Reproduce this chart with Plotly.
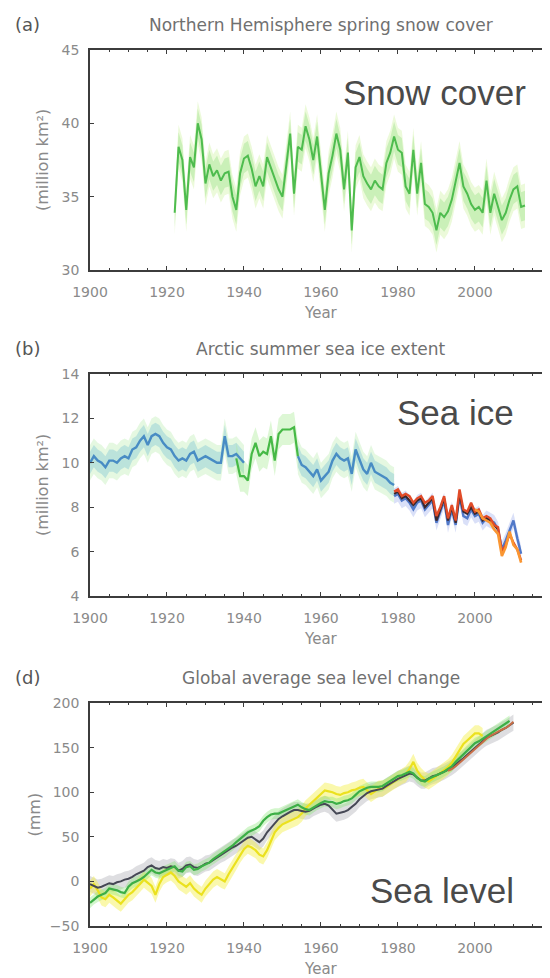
import plotly.graph_objects as go

# ---------------- data ----------------
x_ticks = [1900, 1920, 1940, 1960, 1980, 2000]
x_tick_text = ["1900", "1920", "1940", "1960", "1980", "2000"]

# (a) Northern Hemisphere spring snow cover, million km2, 1922-2013
snow_start = 1922
snow_extent = [33.9, 38.4, 37.5, 34.1, 37.7, 37.0, 40.0, 38.9, 35.9, 37.2,
               36.4, 36.8, 36.1, 36.6, 36.7, 35.0, 34.1, 36.6, 37.6, 37.8,
               36.9, 35.7, 36.4, 35.7, 37.7, 37.0, 36.2, 35.5, 35.0, 37.0,
               39.3, 35.2, 38.4, 38.2, 39.8, 38.9, 37.5, 39.1, 36.4, 34.1,
               36.6, 37.8, 39.3, 38.2, 35.5, 38.0, 32.7, 37.0, 37.7, 36.4,
               35.9, 35.5, 36.1, 35.7, 35.5, 37.3, 38.0, 39.1, 38.2, 38.0,
               35.7, 35.2, 38.2, 35.2, 37.3, 34.5, 34.3, 33.9, 32.7, 33.9,
               33.6, 34.0, 34.8, 36.0, 37.3, 35.7, 35.2, 34.5, 34.1, 34.3,
               33.9, 36.1, 33.9, 35.2, 34.3, 33.4, 33.9, 34.8, 35.5, 35.7,
               34.3, 34.4]
snow_unc = 1.0
snow_ticks = [30, 35, 40, 45]

# (b) Arctic summer sea ice extent, million km2
ice_blue1_start = 1900
ice_blue1 = [10.0, 10.3, 10.1, 10.0, 9.8, 10.1, 10.1, 10.0, 10.2, 10.3,
             10.2, 10.6, 10.7, 11.0, 11.2, 10.8, 11.2, 11.3, 11.2, 10.9,
             10.7, 10.6, 10.3, 10.1, 10.2, 10.1, 10.4, 10.5, 10.1, 10.2,
             10.3, 10.2, 10.1, 10.0, 10.0, 11.2, 10.3, 10.3, 10.4, 10.2,
             10.0]
ice_green_start = 1938
ice_green = [10.2, 9.4, 9.4, 9.2, 10.4, 10.9, 10.3, 10.5, 10.4, 11.2,
             10.1, 11.3, 11.5, 11.5, 11.5, 11.6, 10.3]
ice_blue2_start = 1954
ice_blue2 = [10.3, 9.9, 9.8, 9.6, 9.4, 9.7, 9.2, 9.4, 9.6, 10.1,
             10.4, 10.2, 10.1, 10.2, 9.5, 10.6, 10.1, 9.7, 9.5, 10.0,
             9.6, 9.5, 9.4, 9.3, 9.1, 9.0]
ice_sat_start = 1979
ice_sat_blue = [8.5, 8.6, 8.3, 8.4, 8.2, 7.9, 8.2, 8.3, 7.9, 8.1,
                8.3, 7.3, 7.8, 8.3, 7.2, 7.9, 7.2, 8.5, 7.6, 7.5,
                7.9, 7.6, 7.7, 7.3, 7.5, 7.4, 7.3, 7.0, 6.1, 6.5,
                7.0, 7.4, 6.6, 5.9]
ice_sat_black = [8.6, 8.7, 8.4, 8.5, 8.3, 8.1, 8.3, 8.4, 8.0, 8.2,
                 8.4, 7.4, 7.9, 8.4, 7.4, 8.0, 7.3, 8.6, 7.8, 7.7,
                 8.0, 7.7, 7.8, 7.4, 7.5, 7.4, 7.2, 7.0]
ice_sat_red = [8.7, 8.8, 8.5, 8.6, 8.5, 8.2, 8.4, 8.5, 8.2, 8.3,
               8.5, 7.6, 8.0, 8.5, 7.5, 8.1, 7.4, 8.8, 7.9, 7.8,
               8.2, 7.8, 7.9, 7.5, 7.6, 7.5, 7.2, 7.1, 6.0, 6.3,
               6.8, 6.4, 6.1, 5.6]
ice_orange_start = 2000
ice_sat_orange = [7.9, 7.8, 7.5, 7.4, 7.3, 7.0, 6.8, 5.8, 6.2, 6.9,
                  6.3, 6.1, 5.5]
ice_unc = 0.5
ice_sat_unc = 0.35
ice_ticks = [4, 6, 8, 10, 12, 14]

# (d) Global average sea level change, mm
sl_start = 1900
sl_green = [-24, -20, -17, -15, -13, -8, -9, -10, -12, -13,
            -6, -2, 0, 2, 5, 9, 13, 10, 9, 11,
            13, 15, 17, 12, 11, 16, 17, 13, 14, 17,
            19, 21, 25, 28, 31, 33, 37, 40, 44, 48,
            52, 55, 57, 59, 62, 68, 72, 75, 76, 76,
            78, 80, 82, 84, 86, 83, 81, 80, 83, 86,
            88, 90, 89, 89, 87, 88, 90, 91, 93, 97,
            101, 103, 105, 106, 106, 106, 107, 110, 113, 116,
            118, 119, 121, 123, 121, 116, 113, 112, 115, 117,
            119, 121, 123, 126, 129, 134, 138, 143, 147, 151,
            155, 157, 160, 163, 166, 168, 171, 174, 177, 180]
sl_black = [-3, -5, -7, -6, -4, -2, -3, -1, 0, 2,
            3, 5, 8, 10, 12, 16, 18, 15, 14, 16,
            15, 17, 16, 12, 14, 18, 19, 16, 15, 17,
            20, 21, 24, 27, 30, 32, 35, 38, 40, 43,
            46, 49, 50, 47, 44, 48, 55, 60, 65, 70,
            73, 76, 78, 80, 80, 79, 78, 79, 82, 84,
            86, 87, 85, 80, 76, 77, 78, 80, 83, 87,
            92, 96, 99, 101, 102, 103, 104, 107, 110, 113,
            115, 117, 119, 121, 120, 116, 113, 113, 116, 118,
            119, 121, 123, 125, 128, 131, 134, 138, 142, 146,
            150, 154, 158, 161, 163, 165, 167, 170, 172, 175,
            178]
sl_yellow = [-8, -3, -10, -18, -20, -15, -18, -22, -25, -20,
             -15, -12, -8, -3, 2, -2, -5, -15, -3, 5,
             8, 10, 6, 0, -3, -6, -2, -8, -12, -15,
             -8, -3, 2, 5, 2, 0, 8, 15, 22, 30,
             36, 40, 38, 35, 30, 28, 35, 45, 55, 60,
             64, 66, 68, 70, 72, 76, 82, 86, 90, 95,
             98, 102, 101, 100, 98, 97, 99, 100, 102, 103,
             105, 106, 102, 98, 101, 104, 104, 106, 109, 112,
             115, 118, 120, 126, 134, 124, 118, 114, 112, 115,
             118, 121, 124, 128, 133, 140, 148, 154, 158, 162,
             166, 166, 163]
sl_sat_start = 1993
sl_orange = [124, 126, 129, 133, 137, 141, 145, 149, 153, 157,
             160, 163, 166, 168, 170, 172, 175, 179]
sl_black_unc = 9
sl_yellow_unc = 9
sl_green_unc = 6
sl_ticks = [-50, 0, 50, 100, 150, 200]

# ---------------- layout constants ----------------
# the page body has an 8px margin, so the figure is drawn 8px in from the
# top-left corner; every target screen position below is shifted by OFF.
OFF = 8
W, H = 550 - OFF, 978 - OFF
PLOT_L = 90 - OFF
panels = [  # (top px, bottom px) in screen coordinates
    (50, 270),
    (374, 596),
    (703, 926),
]


def px_x(sx):
    return (sx - OFF) / W


def px_y(sy):
    return 1 - (sy - OFF) / H


def yr(start, vals):
    return list(range(start, start + len(vals)))


def band(xs, ys, unc):
    up = [v + unc for v in ys]
    lo = [v - unc for v in ys]
    return xs + xs[::-1], up + lo[::-1]


fig = go.Figure()


def add_band(xs, ys, unc, color, ax, ay):
    bx, by = band(xs, ys, unc)
    fig.add_trace(go.Scatter(x=bx, y=by, fill="toself", fillcolor=color,
                             line=dict(width=0), mode="lines", hoverinfo="skip",
                             showlegend=False, xaxis=ax, yaxis=ay))


def add_line(xs, ys, color, width, ax, ay):
    fig.add_trace(go.Scatter(x=xs, y=ys, mode="lines",
                             line=dict(color=color, width=width),
                             showlegend=False, xaxis=ax, yaxis=ay))


# (a)
sx = yr(snow_start, snow_extent)
add_band(sx, snow_extent, snow_unc * 1.5, "rgba(200,240,150,0.35)", "x", "y")
add_band(sx, snow_extent, snow_unc, "rgba(140,220,120,0.35)", "x", "y")
add_line(sx, snow_extent, "rgb(78,188,78)", 2, "x", "y")

# (b)
b1x = yr(ice_blue1_start, ice_blue1)
b2x = yr(ice_blue2_start, ice_blue2)
gx = yr(ice_green_start, ice_green)
satx = yr(ice_sat_start, ice_sat_blue)
for xs, ys in ((b1x, ice_blue1), (b2x, ice_blue2)):
    add_band(xs, ys, ice_unc * 1.6, "rgba(180,235,170,0.35)", "x2", "y2")
    add_band(xs, ys, ice_unc, "rgba(110,190,210,0.35)", "x2", "y2")
add_band(gx, ice_green, ice_unc * 1.4, "rgba(170,235,150,0.4)", "x2", "y2")
add_band(satx, ice_sat_blue, ice_sat_unc, "rgba(150,165,235,0.35)", "x2", "y2")
add_line(b1x, ice_blue1, "rgb(72,140,196)", 2.4, "x2", "y2")
add_line(b2x, ice_blue2, "rgb(72,140,196)", 2.4, "x2", "y2")
add_line(gx, ice_green, "rgb(70,185,70)", 2.2, "x2", "y2")
add_line(satx, ice_sat_blue, "rgb(80,120,200)", 2.4, "x2", "y2")
add_line(yr(ice_sat_start, ice_sat_black), ice_sat_black, "rgb(60,40,45)", 2.2, "x2", "y2")
add_line(yr(ice_sat_start, ice_sat_red), ice_sat_red, "rgb(225,75,40)", 2.4, "x2", "y2")
add_line(yr(ice_orange_start, ice_sat_orange), ice_sat_orange, "rgb(250,150,50)", 2.6, "x2", "y2")

# (d)
gsx = yr(sl_start, sl_green)
bsx = yr(sl_start, sl_black)
ysx = yr(sl_start, sl_yellow)
osx = yr(sl_sat_start, sl_orange)
add_band(bsx, sl_black, sl_black_unc, "rgba(160,160,170,0.35)", "x3", "y3")
add_band(ysx, sl_yellow, sl_yellow_unc, "rgba(245,240,70,0.45)", "x3", "y3")
add_band(gsx, sl_green, sl_green_unc, "rgba(130,230,110,0.35)", "x3", "y3")
add_line(ysx, sl_yellow, "rgb(235,225,30)", 2.2, "x3", "y3")
add_line(bsx, sl_black, "rgb(70,72,85)", 2.0, "x3", "y3")
add_line(gsx, sl_green, "rgb(60,175,70)", 2.2, "x3", "y3")
add_line(osx, sl_orange, "rgb(200,110,70)", 2.0, "x3", "y3")

AX_COL = "#3c3c3c"
TICK_FONT = dict(family="DejaVu Sans", size=14, color="#8a8a8a")

y_tick_sets = [snow_ticks, ice_ticks, sl_ticks]
layout = dict(width=W, height=H,
              margin=dict(l=0, r=0, t=0, b=0, pad=0, autoexpand=False),
              paper_bgcolor="white", plot_bgcolor="white", showlegend=False)

for i, ((top, bot), yt) in enumerate(zip(panels, y_tick_sets)):
    n = "" if i == 0 else str(i + 1)
    dom_y = [px_y(bot), px_y(top)]
    layout["xaxis" + n] = dict(
        domain=[PLOT_L / W, 1], anchor="y" + n, range=[1900, 2019.5],
        tickvals=x_ticks, ticktext=x_tick_text, ticks="inside", ticklen=4,
        tickcolor=AX_COL, tickwidth=1, showline=True, linecolor=AX_COL, linewidth=1.6,
        mirror="ticks", showgrid=False, zeroline=False, tickfont=TICK_FONT,
        ticklabelstandoff=8, automargin=False,
        minor=dict(tick0=1900, dtick=5, ticks="inside", ticklen=2, tickcolor=AX_COL),
    )
    layout["yaxis" + n] = dict(
        domain=dom_y, anchor="x" + n, range=[yt[0], yt[-1]], tickvals=yt,
        ticks="inside", ticklen=4, tickcolor=AX_COL, showline=True,
        linecolor=AX_COL, linewidth=1.6, showgrid=False, zeroline=False,
        tickfont=TICK_FONT, ticklabelstandoff=6, automargin=False,
    )
    layout["yaxis" + str(i + 4)] = dict(
        overlaying="y" + n, anchor="x" + n, side="right",
        range=[yt[0], yt[-1]], tickvals=yt, ticks="inside", ticklen=4,
        tickcolor=AX_COL, showticklabels=False, showline=False,
        showgrid=False, zeroline=False, automargin=False,
    )

fig.update_layout(**layout)

TITLE_FONT = dict(family="DejaVu Sans", size=17, color="#707070")
LABEL_FONT = dict(family="DejaVu Sans", size=18, color="#555")
BIG_FONT = dict(family="Liberation Sans", size=35, color="#4a4a4a")
AXT_FONT = dict(family="DejaVu Sans", size=15, color="#8a8a8a")
YT_FONT = dict(family="DejaVu Sans", size=16, color="#8a8a8a")

panel_text = [
    ("(a)", "Northern Hemisphere spring snow cover", "Snow cover", 528, 92, "(million km²)", 42),
    ("(b)", "Arctic summer sea ice extent", "Sea ice", 516, 412, "(million km²)", 42),
    ("(d)", "Global average sea level change", "Sea level", 516, 890, "(mm)", 34),
]
center_x = 321
for (top, bot), (lab, title, big, bx, by, ytitle, ytx) in zip(panels, panel_text):
    fig.add_annotation(x=px_x(27), y=px_y(top - 26), xref="paper", yref="paper",
                       text=lab, showarrow=False, font=LABEL_FONT,
                       xanchor="center", yanchor="middle")
    fig.add_annotation(x=px_x(center_x), y=px_y(top - 25), xref="paper", yref="paper",
                       text=title, showarrow=False, font=TITLE_FONT,
                       xanchor="center", yanchor="middle")
    fig.add_annotation(x=px_x(bx), y=px_y(by), xref="paper", yref="paper",
                       text=big, showarrow=False, font=BIG_FONT,
                       xanchor="right", yanchor="middle")
    fig.add_annotation(x=px_x(center_x), y=px_y(bot + 43), xref="paper", yref="paper",
                       text="Year", showarrow=False, font=AXT_FONT,
                       xanchor="center", yanchor="middle")
    fig.add_annotation(x=px_x(ytx), y=px_y((top + bot) / 2), xref="paper", yref="paper",
                       text=ytitle, showarrow=False, font=YT_FONT, textangle=-90,
                       xanchor="center", yanchor="middle")

fig.write_html("out.html")
